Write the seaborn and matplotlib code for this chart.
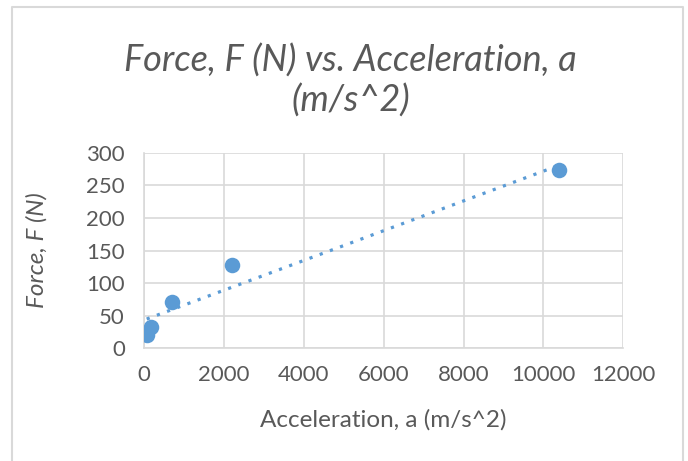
import numpy as np
import pandas as pd
import matplotlib
matplotlib.use("Agg")
import matplotlib.pyplot as plt
import seaborn as sns
from matplotlib.lines import Line2D

acceleration = [60, 180, 690, 2190, 10390]
force = [21, 33, 71, 128, 273]
x_ticks = [0, 2000, 4000, 6000, 8000, 10000, 12000]
y_ticks = [0, 50, 100, 150, 200, 250, 300]

df = pd.DataFrame({"Acceleration": acceleration, "Force": force})

sns.set_theme(style="white")
plt.rcParams['font.family'] = ['Lato', 'DejaVu Sans']

blue = "#5B9BD5"
grey_text = "#595959"
grid_c = "#D9D9D9"

W, H = 688, 461
fig = plt.figure(figsize=(W / 100, H / 100), dpi=100)
fig.patch.set_facecolor("white")
ax = fig.add_axes([144.3 / W, 1 - 348.3 / H, (623.3 - 144.3) / W, (348.3 - 152.7) / H])

sns.regplot(data=df, x="Acceleration", y="Force", ax=ax, ci=None, truncate=True,
            scatter_kws=dict(s=125, color=blue, alpha=1, linewidths=0, zorder=3),
            line_kws=dict(color=blue, linestyle=(0, (1, 2.4)), linewidth=2.3, zorder=2))

ax.set_xlim(0, 12000)
ax.set_ylim(0, 300)
ax.set_xticks(x_ticks)
ax.set_yticks(y_ticks)
ax.grid(True, color=grid_c, linewidth=1.2)
ax.set_axisbelow(True)
for side in ["top", "right"]:
    ax.spines[side].set_visible(False)
for side in ["left", "bottom"]:
    ax.spines[side].set_color(grid_c)
    ax.spines[side].set_linewidth(1.2)
ax.tick_params(axis="both", labelsize=16, colors=grey_text, length=0)
ax.tick_params(axis="y", pad=14)
ax.tick_params(axis="x", pad=12)
ax.set_xlabel("")
ax.set_ylabel("")

fig.text(383.5 / W, 1 - 420 / H, "Acceleration, a (m/s^2)", ha="center", va="center",
         fontsize=17.5, color=grey_text)
fig.text(37 / W, 1 - 250 / H, "Force, F (N)", ha="center", va="center", rotation=90,
         fontsize=17.5, color=grey_text, style="italic")

fig.text(350 / W, 1 - 61 / H, "Force, F (N) vs. Acceleration, a", ha="center", va="center",
         fontsize=26, color=grey_text, style="italic")
fig.text(351 / W, 1 - 101 / H, "(m/s^2)", ha="center", va="center",
         fontsize=26, color=grey_text, style="italic")

x0, x1, y0 = 11.7 / W, 683.3 / W, 1 - 7.3 / H
fig.lines.append(Line2D([x0, x0, x1, x1], [-0.05, y0, y0, -0.05], transform=fig.transFigure,
                        color=grid_c, linewidth=1.5))

fig.savefig("out.png", dpi=100)
